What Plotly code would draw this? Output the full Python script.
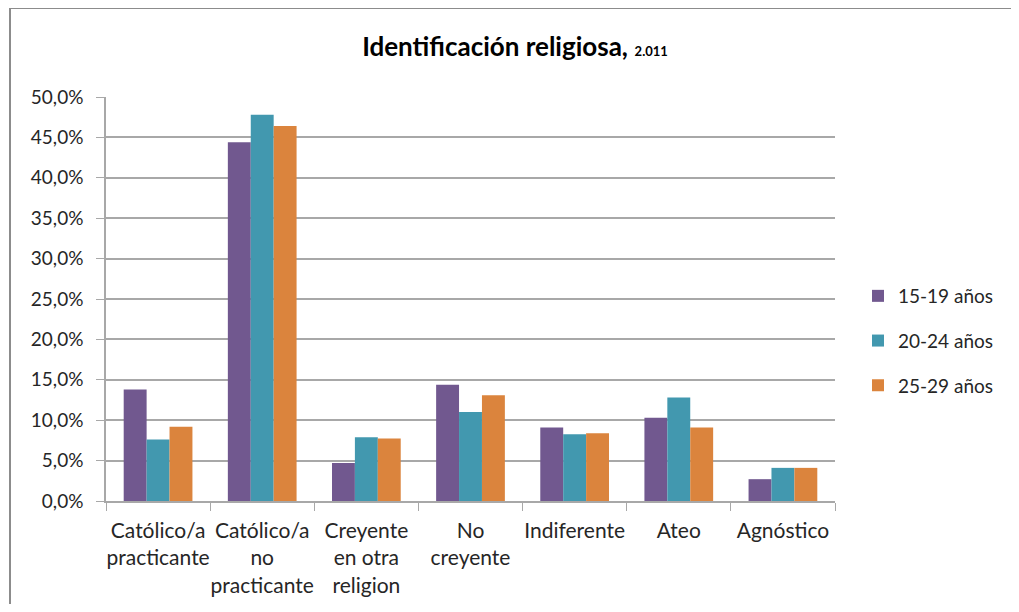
import plotly.graph_objects as go

categories = ["Católico/a<br>practicante", "Católico/a<br>no<br>practicante",
              "Creyente<br>en otra<br>religion", "No<br>creyente",
              "Indiferente", "Ateo", "Agnóstico"]
series_names = ["15-19 años", "20-24 años", "25-29 años"]
v_15_19 = [13.8, 44.4, 4.7, 14.4, 9.1, 10.3, 2.7]
v_20_24 = [7.6, 47.8, 7.9, 11.0, 8.25, 12.8, 4.1]
v_25_29 = [9.2, 46.4, 7.75, 13.1, 8.4, 9.1, 4.1]
colors = ["#71588F", "#4298AF", "#DB843D"]
y_ticks = [0, 5, 10, 15, 20, 25, 30, 35, 40, 45, 50]
y_ticktext = [f"{v:.1f}%".replace(".", ",") for v in y_ticks]

OFF = 8  # page body margin
W, H = 1019 - 2 * OFF, 612 - 2 * OFF  # avoid page overflow / scrollbars
ml = 106 - OFF
mt = 97 - OFF
mr = W - (835 - OFF)
mb = H - (501 - OFF)
pw, ph = W - ml - mr, H - mt - mb


def px(sx):
    return (sx - OFF - ml) / pw


def py(sy):
    return 1 - (sy - OFF - mt) / ph


fig = go.Figure()
for i, (name, vals) in enumerate(zip(series_names, [v_15_19, v_20_24, v_25_29])):
    fig.add_trace(go.Bar(x=categories, y=vals, name=name, marker_color=colors[i],
                         marker_line_width=0, legendgroup=str(i)))

font = "Lato, 'Open Sans', sans-serif"
border = "#8C8C8C"
grid = "#A8A8A8"
fig.update_layout(
    width=W, height=H, autosize=False,
    margin=dict(l=ml, r=mr, t=mt, b=mb),
    paper_bgcolor="white", plot_bgcolor="white",
    barmode="group", bargap=0.34, bargroupgap=0,
    font=dict(family=font, size=19, color="#262626"),
    modebar=dict(bgcolor="rgba(0,0,0,0)", color="rgba(0,0,0,0)", activecolor="rgba(0,0,0,0)"),
    title=dict(text="<b>Identificación religiosa,</b> <span style='font-size:13px'><b>2.011</b></span>",
               x=(515 - OFF) / W, xref="container", xanchor="center",
               y=1 - (47 - OFF) / H, yref="container", yanchor="middle",
               font=dict(family=font, size=26, color="#000000")),
    legend=dict(x=px(858), xanchor="left", y=py(341), yanchor="middle",
                tracegroupgap=17, font=dict(family=font, size=19, color="#262626"),
                itemwidth=30),
    shapes=[
        dict(type="line", xref="paper", yref="paper", x0=px(10), x1=px(1019), y0=py(8), y1=py(8),
             line=dict(color=border, width=2), layer="below"),
        dict(type="line", xref="paper", yref="paper", x0=px(10), x1=px(10), y0=py(8), y1=py(612),
             line=dict(color=border, width=2), layer="below"),
    ],
)
fig.update_yaxes(range=[0, 50], tickvals=y_ticks, ticktext=y_ticktext, automargin=False,
                 showgrid=True, gridcolor=grid, gridwidth=1.5,
                 showline=True, linecolor=grid, linewidth=1.5,
                 ticks="outside", ticklen=8, tickcolor=grid, ticklabelstandoff=9,
                 tickfont=dict(family=font, size=19, color="#262626"), zeroline=False)
fig.update_xaxes(showline=True, linecolor=grid, linewidth=1.5, automargin=False, tickangle=0,
                 ticks="outside", tickson="boundaries", ticklen=8, tickcolor=grid,
                 ticklabelstandoff=10,
                 tickfont=dict(family=font, size=21, color="#262626"))

fig.write_html("out.html", config={"displayModeBar": False})
